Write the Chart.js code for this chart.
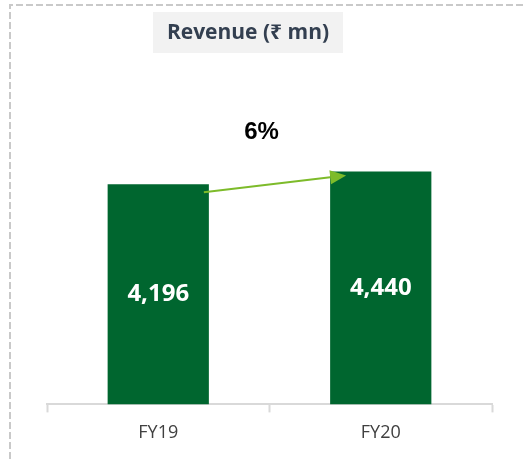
<!DOCTYPE html>
<html>
<head>
<meta charset="utf-8">
<script src="https://cdn.jsdelivr.net/npm/chart.js@4/dist/chart.umd.min.js"></script>
<style>
  html, body { margin: 0; padding: 0; background: #fff; }
  #wrap { position: relative; width: 525px; height: 459px; }
</style>
</head>
<body>
<div id="wrap"><canvas id="revChart" width="525" height="459"></canvas></div>
<script>
// Data
const years = ['FY19', 'FY20'];
const revenue = [4196, 4440];
const growthLabel = '6%';
const chartTitle = 'Revenue (₹ mn)';

const barColor = '#00662f';
const axisColor = '#d9d9d9';
const arrowColor = '#7dbb2a';

// Dashed frame, title box, value labels and growth arrow
const decorPlugin = {
    id: 'decor',
    beforeDraw(chart) {
        const ctx = chart.ctx;
        ctx.save();
        ctx.strokeStyle = '#c9c9c9';
        ctx.lineWidth = 2;
        ctx.setLineDash([7, 3]);
        ctx.beginPath();
        ctx.moveTo(10, 459);
        ctx.lineTo(10, 5);
        ctx.lineTo(525, 5);
        ctx.stroke();
        ctx.setLineDash([]);

        // title box
        ctx.fillStyle = '#f2f2f2';
        ctx.fillRect(153, 12, 190, 41);
        ctx.fillStyle = '#333f50';
        ctx.font = "bold 21px 'Open Sans', 'Noto Sans', sans-serif";
        ctx.textAlign = 'center';
        ctx.textBaseline = 'middle';
        ctx.fillText(chartTitle, 248, 33);
        ctx.restore();
    },
    afterDatasetsDraw(chart) {
        const ctx = chart.ctx;
        const bars = chart.getDatasetMeta(0).data;
        ctx.save();
        ctx.fillStyle = '#ffffff';
        ctx.font = "bold 24px 'Open Sans', sans-serif";
        ctx.textAlign = 'center';
        ctx.textBaseline = 'middle';
        bars.forEach((bar, i) => {
            ctx.fillText(revenue[i].toLocaleString('en-US'), bar.x, (bar.y + bar.base) / 2);
        });

        // growth arrow
        const a = bars[0], b = bars[1];
        const x0 = a.x + a.width / 2 - 5, y0 = a.y + 8;
        const x1 = b.x - b.width / 2 + 16, y1 = b.y + 4;
        const ang = Math.atan2(y1 - y0, x1 - x0);
        const headLen = 16, headW = 7;
        const bx = x1 - headLen * Math.cos(ang), by = y1 - headLen * Math.sin(ang);
        ctx.strokeStyle = arrowColor;
        ctx.lineWidth = 2;
        ctx.beginPath();
        ctx.moveTo(x0, y0);
        ctx.lineTo(bx, by);
        ctx.stroke();
        ctx.fillStyle = arrowColor;
        ctx.beginPath();
        ctx.moveTo(x1, y1);
        ctx.lineTo(bx + headW * Math.sin(ang), by - headW * Math.cos(ang));
        ctx.lineTo(bx - headW * Math.sin(ang), by + headW * Math.cos(ang));
        ctx.closePath();
        ctx.fill();

        // growth label
        ctx.fillStyle = '#000000';
        ctx.font = "bold 24px 'Liberation Sans', Arial, sans-serif";
        ctx.fillText(growthLabel, (a.x + b.x) / 2 - 8, b.y - 39);
        ctx.restore();
    }
};

new Chart(document.getElementById('revChart').getContext('2d'), {
    type: 'bar',
    data: {
        labels: years,
        datasets: [{
            data: revenue,
            backgroundColor: barColor,
            borderWidth: 0,
            categoryPercentage: 1,
            barPercentage: 0.455
        }]
    },
    options: {
        responsive: false,
        animation: false,
        layout: { padding: { left: 47, right: 33, top: 142, bottom: 5 } },
        plugins: {
            legend: { display: false },
            tooltip: { enabled: false }
        },
        scales: {
            x: {
                grid: {
                    drawOnChartArea: false,
                    drawTicks: true,
                    tickLength: 8,
                    tickColor: axisColor,
                    tickWidth: 2,
                    offset: true
                },
                border: { display: true, color: axisColor, width: 2 },
                ticks: {
                    color: '#404040',
                    padding: 10,
                    font: { family: "'Open Sans', sans-serif", size: 18 }
                }
            },
            y: {
                display: false,
                min: 0,
                max: 5000
            }
        }
    },
    plugins: [decorPlugin]
});
</script>
</body>
</html>
